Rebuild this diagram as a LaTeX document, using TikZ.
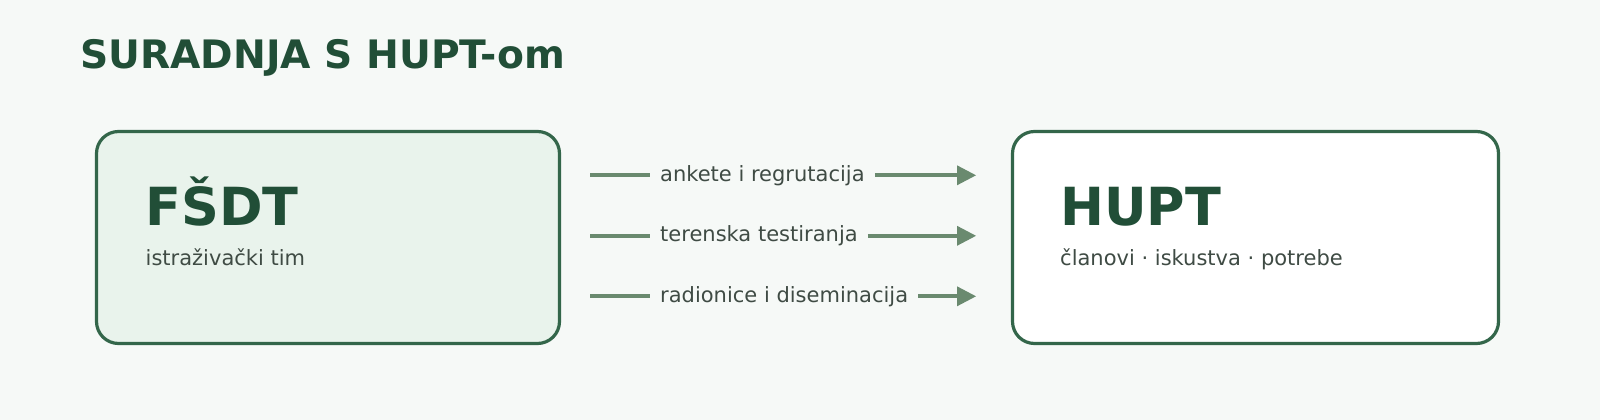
\documentclass[tikz,border=0pt]{standalone}
\usepackage{fontspec}
\setmainfont{DejaVu Sans}
\usepackage{tikz}
\usetikzlibrary{positioning,arrows.meta}
\definecolor{bgcol}{HTML}{F6F9F7}
\definecolor{titlecol}{HTML}{214E37}
\definecolor{framecol}{HTML}{33664A}
\definecolor{leftfill}{HTML}{E9F3EC}
\definecolor{flowcol}{HTML}{6A8A6F}
\definecolor{labelcol}{HTML}{3F4B44}
\tikzstyle{box}=[draw=framecol, line width=3.2pt, rounded corners=22pt, minimum height=212pt, inner sep=0pt]
\tikzstyle{bigname}=[anchor=base west, inner sep=0pt, text=titlecol, font=\fontsize{52.5}{60}\selectfont\bfseries]
\tikzstyle{subname}=[anchor=base west, inner sep=0pt, text=labelcol, font=\fontsize{21}{24}\selectfont]
\tikzstyle{flowlabel}=[anchor=west, inner xsep=10pt, inner ysep=0pt, text height=12pt, text depth=0pt, text=labelcol, font=\fontsize{21}{24}\selectfont]
\tikzstyle{flow}=[draw=flowcol, line width=4pt]
\tikzstyle{connect}=[flow, -{Triangle[length=19pt, width=20pt, line width=0pt]}]

\begin{document}
\begin{tikzpicture}[x=1pt, y=-1pt]

    % canvas
    \fill[bgcol] (0,0) rectangle (1600,420);
    \useasboundingbox (0,0) rectangle (1600,420);

    % title
    \node[anchor=base west, inner sep=0pt, text=titlecol, font=\fontsize{39.2}{44}\selectfont\bfseries] (title) at (80,68) {SURADNJA S HUPT-om};

    % boxes
    \node[box, fill=leftfill, minimum width=463pt] (fsdt) at (328,237.5) {};
    \node[box, fill=white, minimum width=486pt] (hupt) at (1255.5,237.5) {};

    % box texts
    \node[bigname] (fsdtname) at (145.5,225) {FŠDT};
    \node[subname] (fsdtsub) at ([xshift=0pt, yshift=-40pt]fsdtname.base west) {istraživački tim};
    \node[bigname] (huptname) at (1060,225) {HUPT};
    \node[subname] (huptsub) at ([xshift=0pt, yshift=-40pt]huptname.base west) {članovi · iskustva · potrebe};

    % flows
    \coordinate (s1) at (590,175.3);
    \coordinate (t1) at (976,175.3);
    \coordinate (s2) at (590,235.8);
    \coordinate (t2) at (976,235.8);
    \coordinate (s3) at (590,296.3);
    \coordinate (t3) at (976,296.3);
    \node[flowlabel] (l1) at (650,175.3) {ankete i regrutacija};
    \node[flowlabel] (l2) at (650,235.8) {terenska testiranja};
    \node[flowlabel] (l3) at (650,296.3) {radionice i diseminacija};

    % Connect the nodes
    \path
        (s1) edge [flow] (l1.west)
        (l1.east) edge [connect] (t1)
        (s2) edge [flow] (l2.west)
        (l2.east) edge [connect] (t2)
        (s3) edge [flow] (l3.west)
        (l3.east) edge [connect] (t3)
        ;
\end{tikzpicture}
\end{document}
